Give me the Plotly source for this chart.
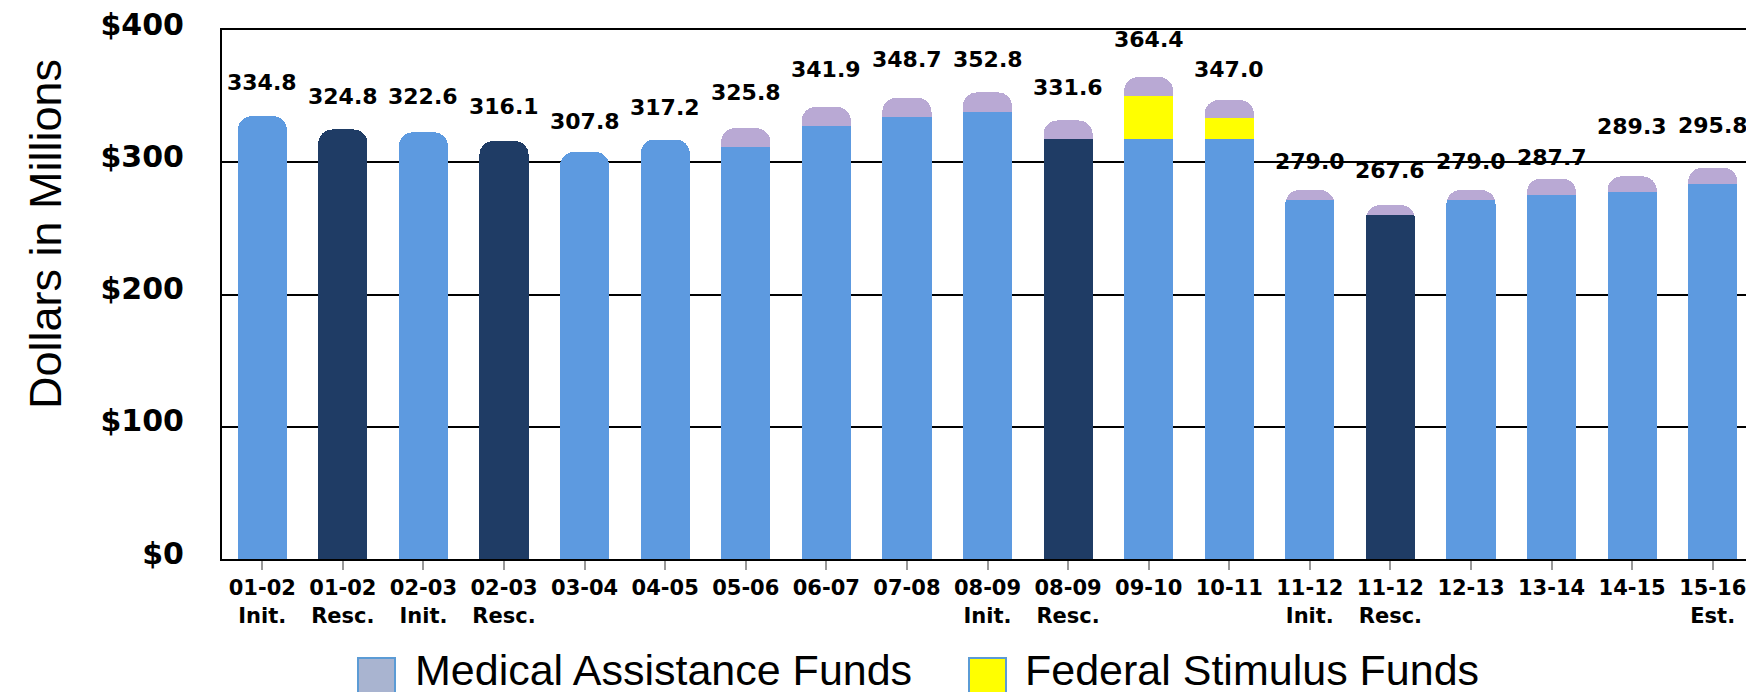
import plotly.graph_objects as go

# ---- data ----
categories = ["01-02<br>Init.", "01-02<br>Resc.", "02-03<br>Init.", "02-03<br>Resc.", "03-04",
              "04-05", "05-06", "06-07", "07-08", "08-09<br>Init.", "08-09<br>Resc.", "09-10",
              "10-11", "11-12<br>Init.", "11-12<br>Resc.", "12-13", "13-14", "14-15", "15-16<br>Est."]
base_funds = [334.8, 324.8, 322.6, 316.1, 307.8, 317.2, 311.8, 327.7, 334.0, 338.3,
              317.6, 317.6, 317.6, 271.7, 260.4, 271.7, 275.2, 277.3, 283.6]
stimulus_funds = [0, 0, 0, 0, 0, 0, 0, 0, 0, 0, 0, 32.8, 15.9, 0, 0, 0, 0, 0, 0]
medical_funds = [0, 0, 0, 0, 0, 0, 14.0, 14.2, 14.7, 14.5, 14.0, 14.0, 13.5, 7.3, 7.2, 7.3, 12.5, 12.0, 12.2]
totals = [334.8, 324.8, 322.6, 316.1, 307.8, 317.2, 325.8, 341.9, 348.7, 352.8,
          331.6, 364.4, 347.0, 279.0, 267.6, 279.0, 287.7, 289.3, 295.8]
is_rescission = [False, True, False, True, False, False, False, False, False, False,
                 True, False, False, False, True, False, False, False, False]
y_ticks = [0, 100, 200, 300, 400]
y_tick_text = ["$0", "$100", "$200", "$300", "$400"]

# ---- styling ----
LIGHT = "#5D9AE0"
NAVY = "#1F3C65"
LAVENDER = "#B9A9D4"
YELLOW = "#FFFF00"
label_lift = [34, 33, 36, 34, 30, 32, 36, 37, 38, 33, 33, 38, 31, 29, 35, 29, 21, 50, 42]

W, H = 1754, 692
L, R, T, B = 214, 9, 22, 141
PW, PH = W - L - R, H - T - B


def px_x(px):
    return (px - L) / PW


def px_y(py):
    return (H - B - py) / PH


x_idx = list(range(len(categories)))
base_colors = [NAVY if r else LIGHT for r in is_rescission]

fig = go.Figure()
fig.add_trace(go.Bar(x=x_idx, y=base_funds, marker=dict(color=base_colors, line=dict(width=0)),
                     showlegend=False, hoverinfo="y"))
fig.add_trace(go.Bar(x=x_idx, y=stimulus_funds, marker=dict(color=YELLOW, line=dict(width=0)),
                     name="Federal Stimulus Funds", showlegend=False))
fig.add_trace(go.Bar(x=x_idx, y=medical_funds, marker=dict(color=LAVENDER, line=dict(width=0)),
                     name="Medical Assistance Funds", showlegend=False))

annotations = []
for i, (tot, lift) in enumerate(zip(totals, label_lift)):
    annotations.append(dict(x=i, y=tot, xref="x", yref="y", text=f"{tot:.1f}",
                            showarrow=False, yanchor="middle", yshift=lift,
                            font=dict(family="DejaVu Sans", size=22, color="black", weight="bold")))

# y-axis title
annotations.append(dict(x=px_x(37), y=px_y(226), xref="paper", yref="paper",
                        text="Dollars in Millions", textangle=-90, showarrow=False,
                        xanchor="center", yanchor="middle",
                        font=dict(family="Liberation Sans", size=45, color="black")))

# manual legend
legend_items = [("Medical Assistance Funds", "#A9B4D0", 350, 405),
                ("Federal Stimulus Funds", YELLOW, 961, 1015)]
shapes = []
for name, col, sx, tx in legend_items:
    shapes.append(dict(type="rect", xref="paper", yref="paper",
                       x0=px_x(sx), x1=px_x(sx + 37), y0=px_y(650), y1=px_y(686),
                       fillcolor=col, line=dict(color="#5B9BD5", width=2)))
    annotations.append(dict(x=px_x(tx), y=px_y(662), xref="paper", yref="paper",
                            text=name, showarrow=False, xanchor="left", yanchor="middle",
                            font=dict(family="Liberation Sans", size=43, color="black")))

fig.update_layout(
    width=W, height=H,
    margin=dict(l=L, r=R, t=T, b=B, autoexpand=False),
    barmode="stack", bargap=0.39, barcornerradius=14,
    plot_bgcolor="white", paper_bgcolor="white",
    showlegend=False,
    annotations=annotations, shapes=shapes,
    xaxis=dict(tickmode="array", tickvals=x_idx, ticktext=categories,
               range=[-0.5, len(categories) - 0.5], automargin=False,
               showline=True, mirror=True, linecolor="black", linewidth=2,
               ticks="outside", tickson="boundaries", ticklen=9, tickcolor="#999999", tickwidth=1.5,
               tickfont=dict(family="DejaVu Sans", size=21, color="black", weight="bold"),
               showgrid=False, zeroline=False, ticklabelstandoff=0),
    yaxis=dict(range=[0, 400.01], tickmode="array", tickvals=y_ticks, ticktext=y_tick_text,
               automargin=False,
               showline=True, mirror=True, linecolor="black", linewidth=2,
               showgrid=True, gridcolor="black", gridwidth=1.5, zeroline=False,
               ticks="", ticklabelstandoff=30, ticklabelshift=-6, ticklabeloverflow="allow",
               tickfont=dict(family="DejaVu Sans", size=30, color="black", weight="bold")),
)

fig.write_html("out.html")
